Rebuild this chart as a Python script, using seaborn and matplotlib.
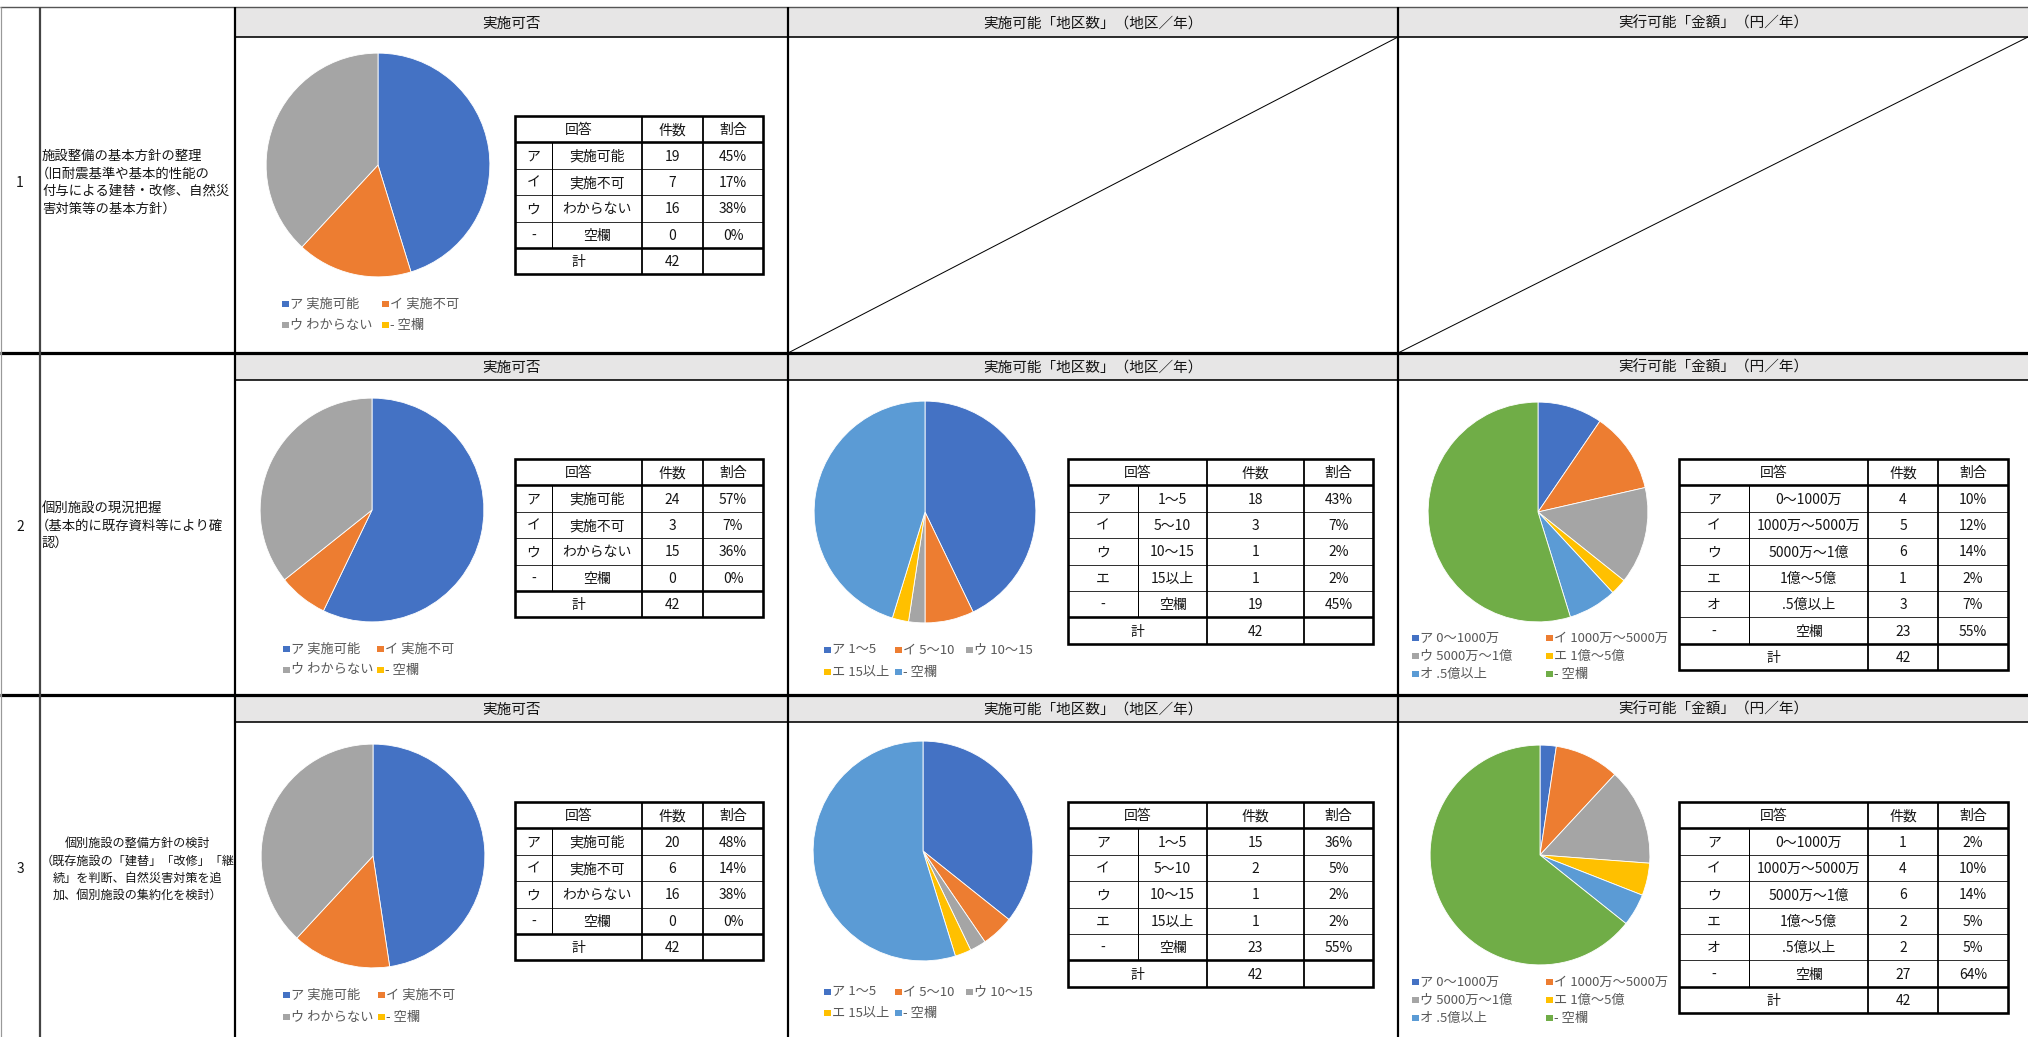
import matplotlib
matplotlib.use("Agg")
import matplotlib.pyplot as plt
from matplotlib.patches import Rectangle
import seaborn as sns

# ---- data read from the sheet ----
row_numbers = ["1", "2", "3"]
row_titles = [
    ["施設整備の基本方針の整理", "（旧耐震基準や基本的性能の", "付与による建替・改修、自然災", "害対策等の基本方針）"],
    ["個別施設の現況把握", "（基本的に既存資料等により確", "認）"],
    ["個別施設の整備方針の検討", "（既存施設の「建替」「改修」「継", "続」を判断、自然災害対策を追", "加、個別施設の集約化を検討）"],
]
col_headers = ["実施可否", "実施可能「地区数」（地区／年）", "実行可能「金額」（円／年）"]

feas_kana = ["ア", "イ", "ウ", "-"]
feas_names = ["実施可能", "実施不可", "わからない", "空欄"]
feas_counts = [[19, 7, 16, 0], [24, 3, 15, 0], [20, 6, 16, 0]]
feas_pcts = [["45%", "17%", "38%", "0%"], ["57%", "7%", "36%", "0%"], ["48%", "14%", "38%", "0%"]]

area_kana = ["ア", "イ", "ウ", "エ", "-"]
area_names = ["1～5", "5～10", "10～15", "15以上", "空欄"]
area_counts = [[18, 3, 1, 1, 19], [15, 2, 1, 1, 23]]
area_pcts = [["43%", "7%", "2%", "2%", "45%"], ["36%", "5%", "2%", "2%", "55%"]]

money_kana = ["ア", "イ", "ウ", "エ", "オ", "-"]
money_names = ["0～1000万", "1000万～5000万", "5000万～1億", "1億～5億", ".5億以上", "空欄"]
money_counts = [[4, 5, 6, 1, 3, 23], [1, 4, 6, 2, 2, 27]]
money_pcts = [["10%", "12%", "14%", "2%", "7%", "55%"], ["2%", "10%", "14%", "5%", "5%", "64%"]]
total = 42

# ---- style ----
sns.set_theme(style="white")
plt.rcParams['font.family'] = ['Noto Sans CJK JP', 'DejaVu Sans']
excel = sns.color_palette(["#4472C4", "#ED7D31", "#A5A5A5", "#FFC000", "#5B9BD5", "#70AD47"])

W, H = 2028, 1037
PT = 0.72  # pixels -> points at dpi 100

fig = plt.figure(figsize=(W / 100, H / 100), dpi=100)
ax = fig.add_axes([0, 0, 1, 1])
ax.set_xlim(0, W)
ax.set_ylim(H, 0)
ax.axis('off')

col_x = [1, 40, 235, 788, 1398, 2028]
row_top = [8, 353, 695]
head_bot = [37, 380, 722]
row_bot = [353, 695, 1037]
TXT = '#141414'


def hline(y, x0, x1, px, color='black'):
    ax.plot([x0, x1], [y, y], color=color, lw=px * PT, solid_capstyle='butt', zorder=3)


def vline(x, y0, y1, px, color='black'):
    ax.plot([x, x], [y0, y1], color=color, lw=px * PT, solid_capstyle='butt', zorder=3)


# header fills and text
for r in range(3):
    ax.add_patch(Rectangle((col_x[2], row_top[r]), W - col_x[2], head_bot[r] - row_top[r],
                           facecolor='#E7E6E6', edgecolor='none', zorder=1))
    for c in range(3):
        cx = (col_x[c + 2] + col_x[c + 3]) / 2
        ax.text(cx, (row_top[r] + head_bot[r]) / 2 + 1, col_headers[c], ha='center', va='center',
                fontsize=10.5, color=TXT, zorder=4)
    hline(head_bot[r], col_x[2], W, 1.6)

# grid lines
hline(7, 0, W, 1.4, '#555555')
hline(353, 0, W, 3.2)
hline(695, 0, W, 3.2)
vline(col_x[0], 7, H, 1.2, '#999999')
vline(col_x[1], 7, H, 2.2, '#444444')
for x in col_x[2:5]:
    vline(x, 7, H, 2.2)

# row-1 diagonals (not applicable cells)
ax.plot([col_x[3], col_x[4]], [row_bot[0], head_bot[0]], color='black', lw=1.0 * PT, zorder=3)
ax.plot([col_x[4], W], [row_bot[0], head_bot[0]], color='black', lw=1.0 * PT, zorder=3)

# row labels
label_y = [[156, 174, 191, 209], [508, 526, 543], [843, 861, 878, 895]]
num_y = [183, 527, 869]
for r in range(3):
    ax.text(20, num_y[r], row_numbers[r], ha='center', va='center', fontsize=10, color=TXT)
    for line, y in zip(row_titles[r], label_y[r]):
        if r < 2:
            # full-width paren carries blank space on its left; pull it back to the cell edge
            x = 36 if line.startswith("（") else 42
            ax.text(x, y, line, ha='left', va='center', fontsize=9.6, color=TXT)
        else:
            ax.text(137.5, y, line, ha='center', va='center', fontsize=8.7, color=TXT)


def draw_pie(cx, cy, rad, counts, colors):
    pax = fig.add_axes([(cx - rad) / W, 1 - (cy + rad) / H, 2 * rad / W, 2 * rad / H])
    vals = [v for v in counts if v > 0]
    cols = [col for v, col in zip(counts, colors) if v > 0]
    pax.pie(vals, colors=cols, startangle=90, counterclock=False, radius=1,
            wedgeprops=dict(edgecolor='white', linewidth=0.6))
    pax.set_xlim(-1.01, 1.01)
    pax.set_ylim(-1.01, 1.01)
    pax.set_aspect('equal')
    pax.axis('off')


def draw_table(xe, top, kana, names, counts, pcts, rh=26.4):
    n = len(kana)
    nrows = n + 2
    bot = top + nrows * rh
    thick, mid, thin = 2.6, 1.8, 1.0
    for i in range(1, nrows):
        y = top + i * rh
        hline(y, xe[0], xe[4], thick if i in (1, nrows - 1) else thin,
              'black' if i in (1, nrows - 1) else '#333333')
    vline(xe[1], top + rh, bot - rh, thin)
    vline(xe[2], top, bot, mid)
    vline(xe[3], top, bot, mid)
    ax.add_patch(Rectangle((xe[0], top), xe[4] - xe[0], bot - top, fill=False,
                           edgecolor='black', lw=thick * PT, zorder=4))
    fs = 10
    mid_y = top + rh / 2 + 1
    ax.text((xe[0] + xe[2]) / 2, mid_y, "回答", ha='center', va='center', fontsize=fs, color=TXT)
    ax.text((xe[2] + xe[3]) / 2, mid_y, "件数", ha='center', va='center', fontsize=fs, color=TXT)
    ax.text((xe[3] + xe[4]) / 2, mid_y, "割合", ha='center', va='center', fontsize=fs, color=TXT)
    for i in range(n):
        y = top + (i + 1.5) * rh + 1
        ax.text((xe[0] + xe[1]) / 2, y, kana[i], ha='center', va='center', fontsize=fs, color=TXT)
        ax.text((xe[1] + xe[2]) / 2, y, names[i], ha='center', va='center', fontsize=fs, color=TXT)
        ax.text((xe[2] + xe[3]) / 2, y, str(counts[i]), ha='center', va='center', fontsize=fs, color=TXT)
        ax.text((xe[3] + xe[4]) / 2, y, pcts[i], ha='center', va='center', fontsize=fs, color=TXT)
    y = top + (n + 1.5) * rh + 1
    ax.text((xe[0] + xe[2]) / 2, y, "計", ha='center', va='center', fontsize=fs, color=TXT)
    ax.text((xe[2] + xe[3]) / 2, y, str(total), ha='center', va='center', fontsize=fs, color=TXT)


def draw_legend(xs, ys, kana, names, colors):
    ncol = len(xs)
    for i, (k, nm) in enumerate(zip(kana, names)):
        x = xs[i % ncol]
        y = ys[i // ncol]
        ax.add_patch(Rectangle((x, y - 3.5), 6.5, 6.5, facecolor=colors[i], edgecolor='none', zorder=4))
        ax.text(x + 8, y, f"{k} {nm}", ha='left', va='center', fontsize=9.5, color='#595959')


# column 2: 実施可否 (all three rows)
feas_pie = [(378, 165, 113), (372, 510, 113), (373, 856, 113)]
feas_tab_top = [116, 459, 802]
feas_leg_x = [[282, 382], [283, 377], [283, 378]]
feas_leg_y = [[304, 325], [649, 670], [995, 1017]]
for r in range(3):
    cx, cy, rad = feas_pie[r]
    draw_pie(cx, cy, rad, feas_counts[r], excel[:4])
    draw_table([515, 552, 642, 703, 763], feas_tab_top[r], feas_kana, feas_names,
               feas_counts[r], feas_pcts[r])
    draw_legend(feas_leg_x[r], feas_leg_y[r], feas_kana, feas_names, excel[:4])

# column 3: 地区数 (rows 2 and 3)
area_pie = [(925, 512, 112), (923, 851, 111)]
area_tab_top = [459, 802]
area_leg_y = [[650, 672], [992, 1013]]
for k in range(2):
    cx, cy, rad = area_pie[k]
    draw_pie(cx, cy, rad, area_counts[k], excel[:5])
    draw_table([1068, 1138, 1207, 1304, 1373], area_tab_top[k], area_kana, area_names,
               area_counts[k], area_pcts[k])
    draw_legend([824, 895, 966], area_leg_y[k], area_kana, area_names, excel[:5])

# column 4: 金額 (rows 2 and 3)
money_pie = [(1538, 512, 111), (1540, 855, 111)]
money_tab_top = [459, 802]
money_leg_y = [[638, 656, 674], [982, 1000, 1018]]
for k in range(2):
    cx, cy, rad = money_pie[k]
    draw_pie(cx, cy, rad, money_counts[k], excel)
    draw_table([1679, 1749, 1868, 1938, 2008], money_tab_top[k], money_kana, money_names,
               money_counts[k], money_pcts[k])
    draw_legend([1412, 1546], money_leg_y[k], money_kana, money_names, excel)

fig.savefig("out.png", dpi=100, facecolor='white')
